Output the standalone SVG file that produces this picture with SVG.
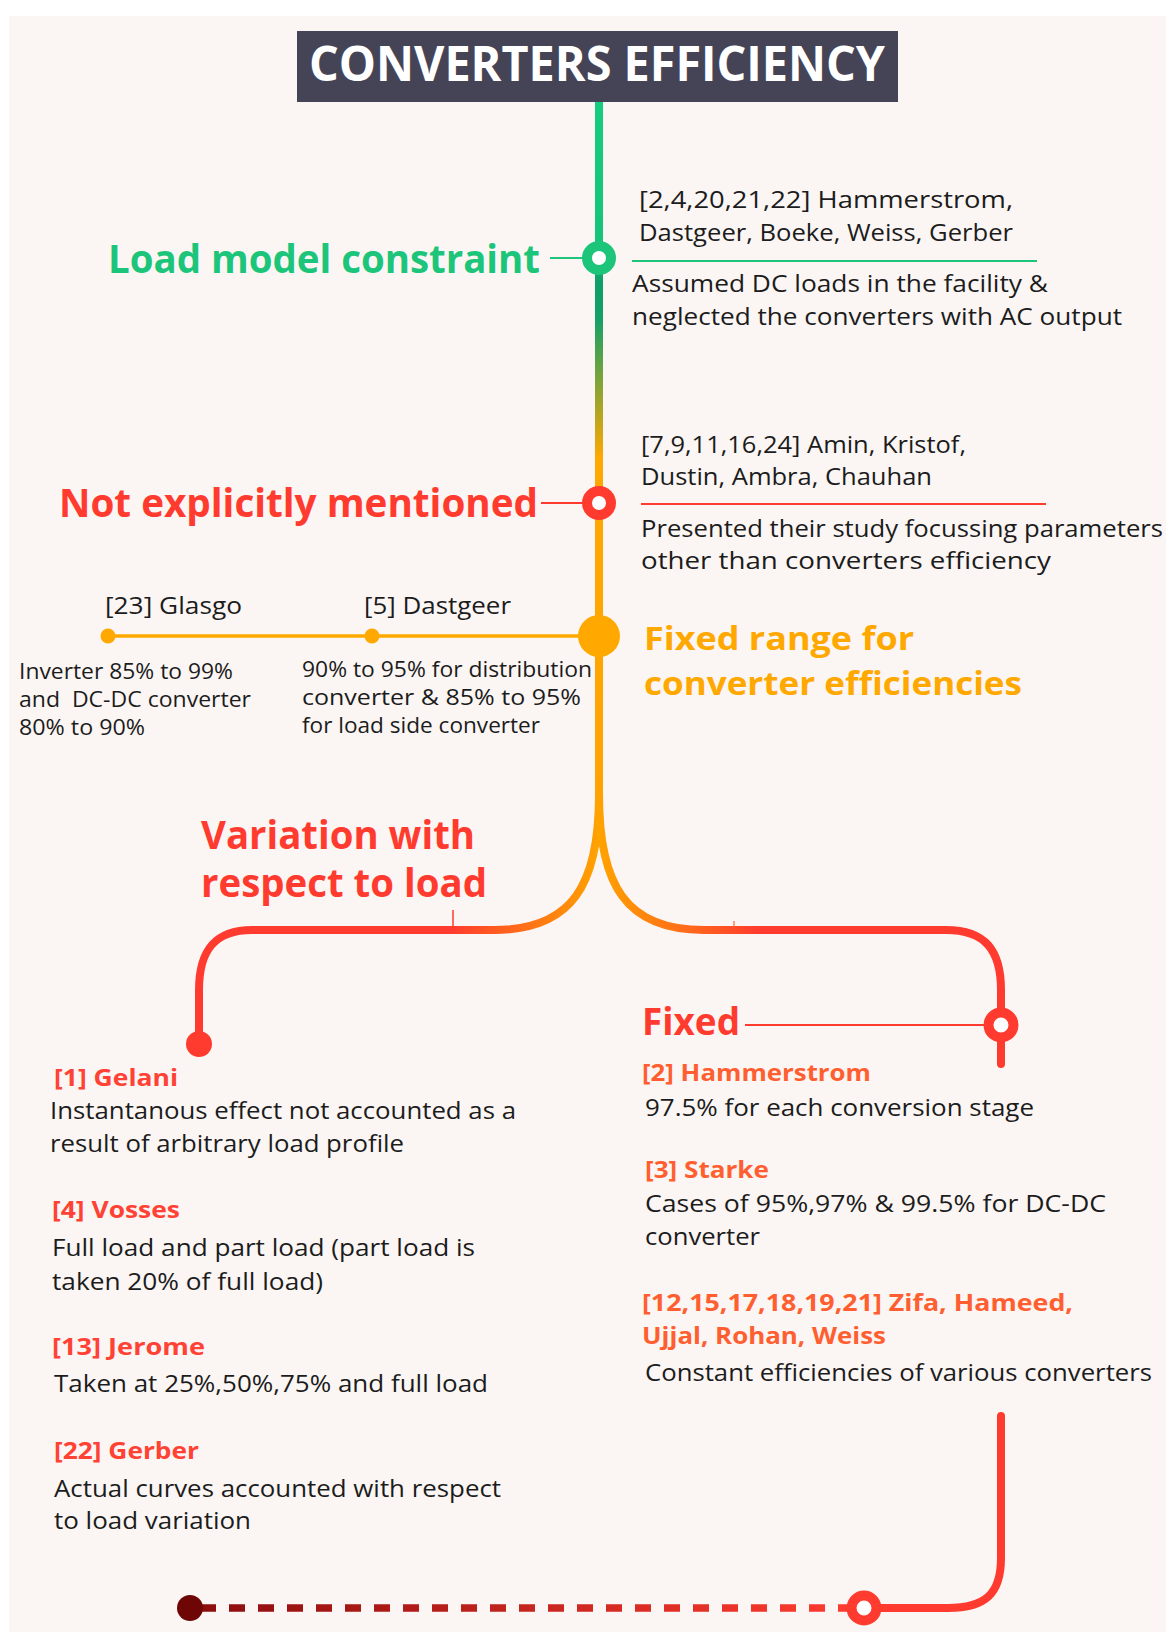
<svg xmlns="http://www.w3.org/2000/svg" width="1166" height="1632" viewBox="0 0 1166 1632">
<defs>
<style>
.title{font-family:"Open Sans","Liberation Sans",sans-serif;font-weight:700;font-size:48px;fill:#ffffff}
.h{font-family:"Open Sans","Liberation Sans",sans-serif;font-weight:700;font-size:39px}
.ho{font-family:"Open Sans","Liberation Sans",sans-serif;font-weight:700;font-size:33px;fill:#ffa800}
.body{font-family:"Open Sans","Liberation Sans",sans-serif;font-size:24.5px;fill:#1c1c1c}
.small{font-family:"Open Sans","Liberation Sans",sans-serif;font-size:22px;fill:#1c1c1c}
.ref{font-family:"Open Sans","Liberation Sans",sans-serif;font-weight:700;font-size:23px}
.green{fill:#1dc57b}
.red{fill:#ff3b2f}
.refred{fill:#ff4234}
.refor{fill:#ff5f30}
.ring{fill:#ffffff;stroke-width:10}
.thin{fill:none;stroke-width:1.8}
.thick{fill:none;stroke-width:8;stroke-linecap:round}
</style>
<linearGradient id="gTrunk" gradientUnits="userSpaceOnUse" x1="0" y1="102" x2="0" y2="800">
<stop offset="0" stop-color="#16cc7d"/>
<stop offset="0.2" stop-color="#16c47a"/>
<stop offset="0.26" stop-color="#0f9e68"/>
<stop offset="0.31" stop-color="#14a067"/>
<stop offset="0.51" stop-color="#ffa800"/>
<stop offset="1" stop-color="#ffa300"/>
</linearGradient>
<linearGradient id="gLeft" gradientUnits="userSpaceOnUse" x1="599" y1="0" x2="450" y2="0">
<stop offset="0" stop-color="#ffa300"/>
<stop offset="1" stop-color="#ff3b2f"/>
</linearGradient>
<linearGradient id="gRight" gradientUnits="userSpaceOnUse" x1="599" y1="0" x2="760" y2="0">
<stop offset="0" stop-color="#ffa300"/>
<stop offset="1" stop-color="#ff3b2f"/>
</linearGradient>
<linearGradient id="gDash" gradientUnits="userSpaceOnUse" x1="190" y1="0" x2="850" y2="0">
<stop offset="0" stop-color="#8a0c0c"/>
<stop offset="1" stop-color="#ff3b2f"/>
</linearGradient>
</defs>

<rect x="0" y="0" width="1166" height="1632" fill="#ffffff"/>
<rect x="9" y="16" width="1157" height="1616" fill="#fbf6f4"/>

<g id="connectors">
<path d="M599,102 L599,800" stroke="url(#gTrunk)" stroke-width="8" fill="none"/>
<path d="M599,795 C599,885 572,930 494,930 L252,930 C215,930 199,950 199,990 L199,1044" stroke="url(#gLeft)" class="thick"/>
<path d="M599,795 C599,885 626,930 704,930 L946,930 C985,930 1001,950 1001,990 L1001,1064" stroke="url(#gRight)" class="thick"/>
<path d="M108,636 L599,636" stroke="#ffa800" stroke-width="3.5" fill="none"/>
<path d="M550,258 L585,258" stroke="#1dc57b" class="thin"/>
<path d="M632,261 L1037,261" stroke="#1dc57b" stroke-width="2.2" fill="none"/>
<path d="M541,503 L585,503" stroke="#ff3b2f" class="thin"/>
<path d="M641,504 L1046,504" stroke="#ff3b2f" stroke-width="2.2" fill="none"/>
<path d="M745,1025 L988,1025" stroke="#ff3b2f" class="thin"/>
<path d="M453,910 L453,928" stroke="#ff3b2f" stroke-width="1.5" fill="none"/>
<path d="M734,921 L734,927" stroke="#ff6a2a" stroke-width="1.2" fill="none"/>
<path d="M1001,1416 L1001,1558 C1001,1594 985,1608 948,1608 L872,1608" stroke="#ff3b2f" class="thick"/>
<path d="M200,1608 L852,1608" stroke="url(#gDash)" stroke-width="7.5" stroke-dasharray="16 13" fill="none"/>
</g>

<g id="title">
<rect x="297" y="31" width="601" height="71" fill="#454457"/>
<text x="597" y="81" text-anchor="middle" class="title" textLength="576" lengthAdjust="spacingAndGlyphs">CONVERTERS EFFICIENCY</text>
</g>

<g id="load-model-constraint">
<circle cx="599" cy="258" r="12" class="ring" stroke="#1dc57b"/>
<text x="108" y="273" class="h green" textLength="432" lengthAdjust="spacingAndGlyphs">Load model constraint</text>
<text x="639" y="208" class="body" textLength="374" lengthAdjust="spacingAndGlyphs">[2,4,20,21,22] Hammerstrom,</text>
<text x="639" y="241" class="body" textLength="374" lengthAdjust="spacingAndGlyphs">Dastgeer, Boeke, Weiss, Gerber</text>
<text x="632" y="292" class="body" textLength="416" lengthAdjust="spacingAndGlyphs">Assumed DC loads in the facility &amp;</text>
<text x="632" y="325" class="body" textLength="490" lengthAdjust="spacingAndGlyphs">neglected the converters with AC output</text>
</g>

<g id="not-explicitly-mentioned">
<circle cx="599" cy="503" r="12" class="ring" stroke="#ff3b2f"/>
<text x="59" y="517" class="h red" textLength="479" lengthAdjust="spacingAndGlyphs">Not explicitly mentioned</text>
<text x="641" y="453" class="body" textLength="325" lengthAdjust="spacingAndGlyphs">[7,9,11,16,24] Amin, Kristof,</text>
<text x="641" y="485" class="body" textLength="291" lengthAdjust="spacingAndGlyphs">Dustin, Ambra, Chauhan</text>
<text x="641" y="537" class="body" textLength="522" lengthAdjust="spacingAndGlyphs">Presented their study focussing parameters</text>
<text x="641" y="569" class="body" textLength="410" lengthAdjust="spacingAndGlyphs">other than converters efficiency</text>
</g>

<g id="fixed-range">
<circle cx="599" cy="636" r="21" fill="#ffa800"/>
<text x="644" y="650" class="ho" textLength="270" lengthAdjust="spacingAndGlyphs">Fixed range for</text>
<text x="644" y="695" class="ho" textLength="378" lengthAdjust="spacingAndGlyphs">converter efficiencies</text>
</g>

<g id="glasgo">
<circle cx="108" cy="636" r="7.5" fill="#ffa800"/>
<text x="105" y="614" class="body" textLength="137" lengthAdjust="spacingAndGlyphs">[23] Glasgo</text>
<text x="19" y="679" class="small" textLength="214" lengthAdjust="spacingAndGlyphs">Inverter 85% to 99%</text>
<text x="19" y="707" class="small" textLength="232" lengthAdjust="spacingAndGlyphs" xml:space="preserve">and  DC-DC converter</text>
<text x="19" y="735" class="small" textLength="126" lengthAdjust="spacingAndGlyphs">80% to 90%</text>
</g>

<g id="dastgeer">
<circle cx="372" cy="636" r="7.5" fill="#ffa800"/>
<text x="364" y="614" class="body" textLength="147" lengthAdjust="spacingAndGlyphs">[5] Dastgeer</text>
<text x="302" y="677" class="small" textLength="290" lengthAdjust="spacingAndGlyphs">90% to 95% for distribution</text>
<text x="302" y="705" class="small" textLength="279" lengthAdjust="spacingAndGlyphs">converter &amp; 85% to 95%</text>
<text x="302" y="733" class="small" textLength="238" lengthAdjust="spacingAndGlyphs">for load side converter</text>
</g>

<g id="variation-with-load">
<circle cx="199" cy="1044" r="13" fill="#ff3b2f"/>
<text x="201" y="849" class="h red" textLength="274" lengthAdjust="spacingAndGlyphs">Variation with</text>
<text x="201" y="897" class="h red" textLength="286" lengthAdjust="spacingAndGlyphs">respect to load</text>
<text x="54" y="1086" class="ref refred" textLength="124" lengthAdjust="spacingAndGlyphs">[1] Gelani</text>
<text x="50" y="1119" class="body" textLength="466" lengthAdjust="spacingAndGlyphs">Instantanous effect not accounted as a</text>
<text x="50" y="1152" class="body" textLength="354" lengthAdjust="spacingAndGlyphs">result of arbitrary load profile</text>
<text x="52" y="1218" class="ref refred" textLength="128" lengthAdjust="spacingAndGlyphs">[4] Vosses</text>
<text x="52" y="1256" class="body" textLength="423" lengthAdjust="spacingAndGlyphs">Full load and part load (part load is</text>
<text x="52" y="1290" class="body" textLength="271" lengthAdjust="spacingAndGlyphs">taken 20% of full load)</text>
<text x="52" y="1355" class="ref refred" textLength="153" lengthAdjust="spacingAndGlyphs">[13] Jerome</text>
<text x="54" y="1392" class="body" textLength="434" lengthAdjust="spacingAndGlyphs">Taken at 25%,50%,75% and full load</text>
<text x="54" y="1459" class="ref refred" textLength="145" lengthAdjust="spacingAndGlyphs">[22] Gerber</text>
<text x="54" y="1497" class="body" textLength="447" lengthAdjust="spacingAndGlyphs">Actual curves accounted with respect</text>
<text x="54" y="1529" class="body" textLength="197" lengthAdjust="spacingAndGlyphs">to load variation</text>
</g>

<g id="fixed">
<circle cx="1001" cy="1025" r="12.5" class="ring" stroke="#ff3b2f"/>
<text x="642" y="1035" class="h red" style="font-size:37px" textLength="98" lengthAdjust="spacingAndGlyphs">Fixed</text>
<text x="642" y="1081" class="ref refor" textLength="229" lengthAdjust="spacingAndGlyphs">[2] Hammerstrom</text>
<text x="645" y="1116" class="body" textLength="389" lengthAdjust="spacingAndGlyphs">97.5% for each conversion stage</text>
<text x="645" y="1178" class="ref refor" textLength="124" lengthAdjust="spacingAndGlyphs">[3] Starke</text>
<text x="645" y="1212" class="body" textLength="461" lengthAdjust="spacingAndGlyphs">Cases of 95%,97% &amp; 99.5% for DC-DC</text>
<text x="645" y="1245" class="body" textLength="115" lengthAdjust="spacingAndGlyphs">converter</text>
<text x="642" y="1311" class="ref refor" textLength="431" lengthAdjust="spacingAndGlyphs">[12,15,17,18,19,21] Zifa, Hameed,</text>
<text x="642" y="1344" class="ref refor" textLength="244" lengthAdjust="spacingAndGlyphs">Ujjal, Rohan, Weiss</text>
<text x="645" y="1381" class="body" textLength="507" lengthAdjust="spacingAndGlyphs">Constant efficiencies of various converters</text>
</g>

<g id="end-left">
<circle cx="190" cy="1608" r="13" fill="#6e0606"/>
</g>

<g id="end-right">
<circle cx="864" cy="1608" r="12.5" class="ring" stroke="#ff3b2f"/>
</g>
</svg>
